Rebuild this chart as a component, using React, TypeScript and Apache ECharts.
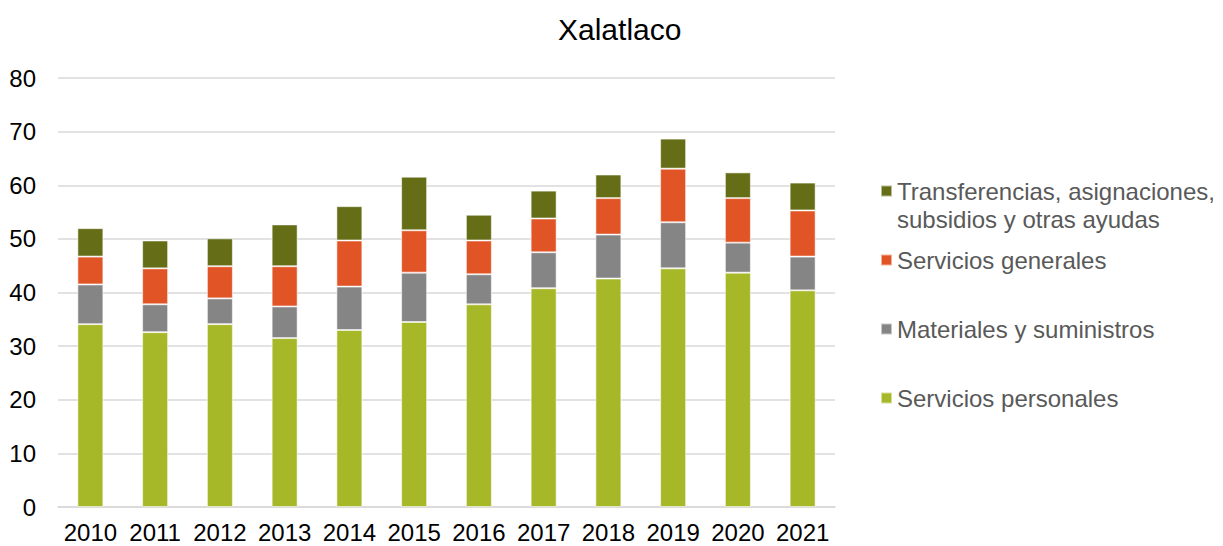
import React, { useEffect, useRef } from "react";
import * as echarts from "echarts";

const years = ["2010", "2011", "2012", "2013", "2014", "2015", "2016", "2017", "2018", "2019", "2020", "2021"];
const serviciosPersonales = [34.1, 32.6, 34.1, 31.5, 33.0, 34.5, 37.8, 40.8, 42.6, 44.5, 43.7, 40.4];
const materialesSuministros = [7.4, 5.2, 4.8, 5.9, 8.1, 9.2, 5.6, 6.7, 8.2, 8.6, 5.6, 6.3];
const serviciosGenerales = [5.2, 6.7, 6.0, 7.5, 8.6, 7.9, 6.3, 6.3, 6.8, 10.0, 8.3, 8.6];
const transferencias = [5.3, 5.2, 5.2, 7.8, 6.4, 10.0, 4.8, 5.2, 4.4, 5.6, 4.8, 5.2];

const NAME_SP = "Servicios personales";
const NAME_MS = "Materiales y suministros";
const NAME_SG = "Servicios generales";
const NAME_T = "Transferencias, asignaciones, subsidios y otras ayudas";

const FONT = "'Liberation Sans', Arial, sans-serif";

export default function App() {
  const ref = useRef<HTMLDivElement>(null);
  useEffect(() => {
    document.body.style.margin = "0";
    const chart = echarts.init(ref.current!, null, { renderer: "svg" });
    const mkSeries = (name: string, data: number[], color: string) => ({
      name,
      type: "bar",
      stack: "total",
      data,
      barWidth: 26,
      itemStyle: { color, borderColor: "rgba(255,255,255,0.55)", borderWidth: 1 },
    });
    const legendBase = {
      orient: "vertical",
      left: 880,
      padding: 0,
      icon: "rect",
      itemWidth: 11,
      itemHeight: 11,
      selectedMode: false,
      textStyle: { fontFamily: FONT, fontSize: 24, color: "#595959", lineHeight: 28 },
    };
    chart.setOption({
      animation: false,
      title: {
        text: "Xalatlaco",
        left: 553,
        top: 9,
        textStyle: { fontFamily: FONT, fontSize: 30, fontWeight: "normal", color: "#000" },
      },
      legend: [
        {
          ...legendBase,
          top: 149,
          data: [NAME_T],
          formatter: () => "\nTransferencias, asignaciones,\nsubsidios y otras ayudas",
        },
        { ...legendBase, top: 246, data: [NAME_SG] },
        { ...legendBase, top: 315, data: [NAME_MS] },
        { ...legendBase, top: 384, data: [NAME_SP] },
      ],
      grid: { left: 58, right: 388, top: 78, bottom: 39, containLabel: false },
      xAxis: {
        type: "category",
        data: years,
        axisLine: { lineStyle: { color: "#D9D9D9", width: 1.5 } },
        axisTick: { show: false },
        axisLabel: { fontFamily: FONT, fontSize: 24, color: "#000", margin: 13, interval: 0 },
      },
      yAxis: {
        type: "value",
        min: 0,
        max: 80,
        interval: 10,
        axisLine: { show: false },
        axisTick: { show: false },
        splitLine: { lineStyle: { color: "#D9D9D9", width: 1.5 } },
        axisLabel: { fontFamily: FONT, fontSize: 24, color: "#000", margin: 22 },
      },
      series: [
        mkSeries(NAME_SP, serviciosPersonales, "#A6B727"),
        mkSeries(NAME_MS, materialesSuministros, "#858585"),
        mkSeries(NAME_SG, serviciosGenerales, "#E05425"),
        mkSeries(NAME_T, transferencias, "#656D17"),
      ],
    });
    return () => chart.dispose();
  }, []);
  return <div ref={ref} style={{ width: 1223, height: 546 }} />;
}
